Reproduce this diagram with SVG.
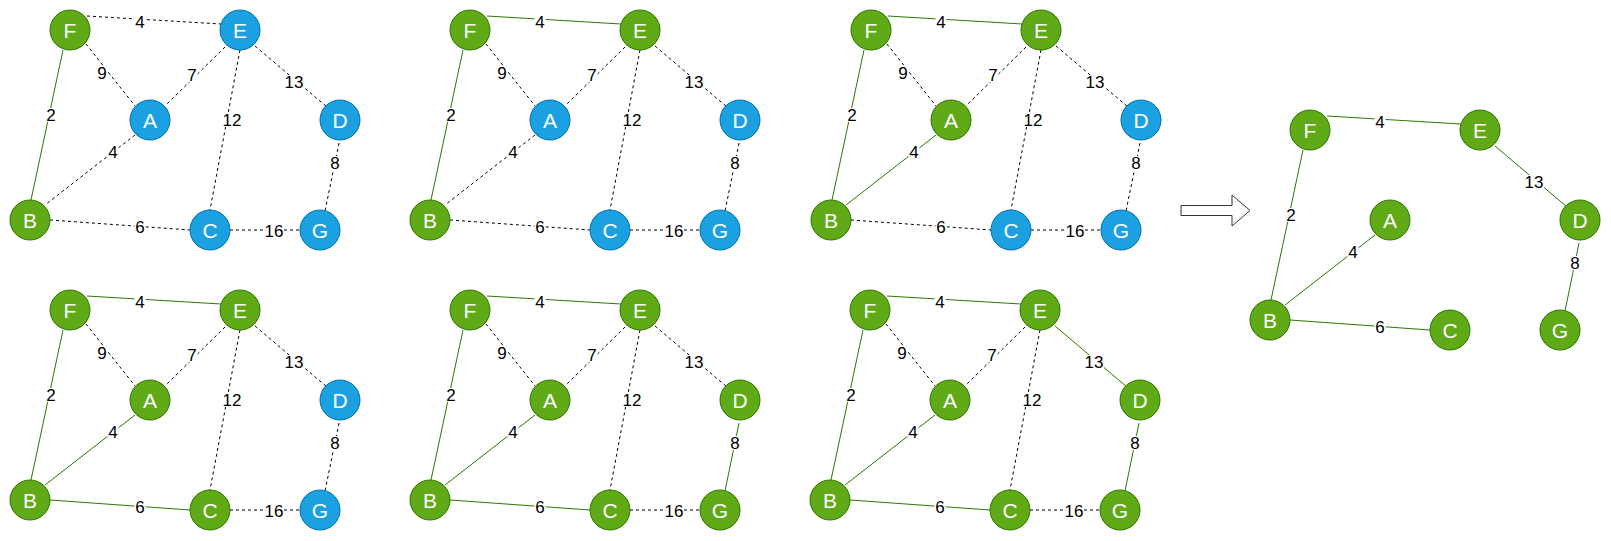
<svg xmlns="http://www.w3.org/2000/svg" width="1611" height="541" viewBox="0 0 1611 541">
<style>
.g{fill:#60A917;stroke:#2D7600;stroke-width:1}
.b{fill:#1BA1E2;stroke:#006EAF;stroke-width:1}
.nt{font-family:"Liberation Sans",Arial,sans-serif;font-size:21px;fill:#fff;text-anchor:middle;dominant-baseline:central}
.s{stroke:#2D7600;stroke-width:1;fill:none}
.d{stroke:#000;stroke-width:1;stroke-dasharray:3 3;fill:none}
.lb{fill:#fff}
.lt{font-family:"Liberation Sans",Arial,sans-serif;font-size:17px;fill:#000;text-anchor:middle;dominant-baseline:central}
</style>

<!-- Panel 1 -->
<g id="p1-connectors" transform="translate(0,0)">
<line class="d" x1="87" y1="16" x2="221" y2="24"/>
<line class="d" x1="86" y1="44" x2="135" y2="106"/>
<line class="d" x1="225" y1="47" x2="165" y2="106"/>
<line class="d" x1="255" y1="46" x2="327" y2="107"/>
<line class="d" x1="240" y1="50" x2="210" y2="210"/>
<line class="s" x1="63" y1="50" x2="31" y2="200"/>
<line class="d" x1="135" y1="135" x2="45" y2="205"/>
<line class="d" x1="339" y1="143" x2="325" y2="211"/>
<line class="d" x1="50" y1="220" x2="190" y2="230"/>
<line class="d" x1="230" y1="230" x2="300" y2="230"/>
<rect class="lb" x="134.5" y="15" width="11" height="14"/><text class="lt" x="140" y="22">4</text>
<rect class="lb" x="96.5" y="66" width="11" height="14"/><text class="lt" x="102" y="73">9</text>
<rect class="lb" x="186.5" y="68" width="11" height="14"/><text class="lt" x="192" y="75">7</text>
<rect class="lb" x="284" y="75" width="20" height="14"/><text class="lt" x="294" y="82">13</text>
<rect class="lb" x="222" y="113" width="20" height="14"/><text class="lt" x="232" y="120">12</text>
<rect class="lb" x="45.5" y="108" width="11" height="14"/><text class="lt" x="51" y="115">2</text>
<rect class="lb" x="107.5" y="145" width="11" height="14"/><text class="lt" x="113" y="152">4</text>
<rect class="lb" x="329.5" y="156" width="11" height="14"/><text class="lt" x="335" y="163">8</text>
<rect class="lb" x="134.5" y="220" width="11" height="14"/><text class="lt" x="140" y="227">6</text>
<rect class="lb" x="264" y="224" width="20" height="14"/><text class="lt" x="274" y="231">16</text>
</g>
<g id="p1-F"><circle class="g" cx="70" cy="30" r="20"/><text class="nt" x="70" y="30">F</text></g>
<g id="p1-E"><circle class="b" cx="240" cy="30" r="20"/><text class="nt" x="240" y="30">E</text></g>
<g id="p1-A"><circle class="b" cx="150" cy="120" r="20"/><text class="nt" x="150" y="120">A</text></g>
<g id="p1-D"><circle class="b" cx="340" cy="120" r="20"/><text class="nt" x="340" y="120">D</text></g>
<g id="p1-B"><circle class="g" cx="30" cy="220" r="20"/><text class="nt" x="30" y="220">B</text></g>
<g id="p1-C"><circle class="b" cx="210" cy="230" r="20"/><text class="nt" x="210" y="230">C</text></g>
<g id="p1-G"><circle class="b" cx="320" cy="230" r="20"/><text class="nt" x="320" y="230">G</text></g>

<!-- Panel 2 -->
<g id="p2-connectors" transform="translate(400,0)">
<line class="s" x1="87" y1="16" x2="221" y2="24"/>
<line class="d" x1="86" y1="44" x2="135" y2="106"/>
<line class="d" x1="225" y1="47" x2="165" y2="106"/>
<line class="d" x1="255" y1="46" x2="327" y2="107"/>
<line class="d" x1="240" y1="50" x2="210" y2="210"/>
<line class="s" x1="63" y1="50" x2="31" y2="200"/>
<line class="d" x1="135" y1="135" x2="45" y2="205"/>
<line class="d" x1="339" y1="143" x2="325" y2="211"/>
<line class="d" x1="50" y1="220" x2="190" y2="230"/>
<line class="d" x1="230" y1="230" x2="300" y2="230"/>
<rect class="lb" x="134.5" y="15" width="11" height="14"/><text class="lt" x="140" y="22">4</text>
<rect class="lb" x="96.5" y="66" width="11" height="14"/><text class="lt" x="102" y="73">9</text>
<rect class="lb" x="186.5" y="68" width="11" height="14"/><text class="lt" x="192" y="75">7</text>
<rect class="lb" x="284" y="75" width="20" height="14"/><text class="lt" x="294" y="82">13</text>
<rect class="lb" x="222" y="113" width="20" height="14"/><text class="lt" x="232" y="120">12</text>
<rect class="lb" x="45.5" y="108" width="11" height="14"/><text class="lt" x="51" y="115">2</text>
<rect class="lb" x="107.5" y="145" width="11" height="14"/><text class="lt" x="113" y="152">4</text>
<rect class="lb" x="329.5" y="156" width="11" height="14"/><text class="lt" x="335" y="163">8</text>
<rect class="lb" x="134.5" y="220" width="11" height="14"/><text class="lt" x="140" y="227">6</text>
<rect class="lb" x="264" y="224" width="20" height="14"/><text class="lt" x="274" y="231">16</text>
</g>
<g id="p2-F"><circle class="g" cx="470" cy="30" r="20"/><text class="nt" x="470" y="30">F</text></g>
<g id="p2-E"><circle class="g" cx="640" cy="30" r="20"/><text class="nt" x="640" y="30">E</text></g>
<g id="p2-A"><circle class="b" cx="550" cy="120" r="20"/><text class="nt" x="550" y="120">A</text></g>
<g id="p2-D"><circle class="b" cx="740" cy="120" r="20"/><text class="nt" x="740" y="120">D</text></g>
<g id="p2-B"><circle class="g" cx="430" cy="220" r="20"/><text class="nt" x="430" y="220">B</text></g>
<g id="p2-C"><circle class="b" cx="610" cy="230" r="20"/><text class="nt" x="610" y="230">C</text></g>
<g id="p2-G"><circle class="b" cx="720" cy="230" r="20"/><text class="nt" x="720" y="230">G</text></g>

<!-- Panel 3 -->
<g id="p3-connectors" transform="translate(801,0)">
<line class="s" x1="87" y1="16" x2="221" y2="24"/>
<line class="d" x1="86" y1="44" x2="135" y2="106"/>
<line class="d" x1="225" y1="47" x2="165" y2="106"/>
<line class="d" x1="255" y1="46" x2="327" y2="107"/>
<line class="d" x1="240" y1="50" x2="210" y2="210"/>
<line class="s" x1="63" y1="50" x2="31" y2="200"/>
<line class="s" x1="135" y1="135" x2="45" y2="205"/>
<line class="d" x1="339" y1="143" x2="325" y2="211"/>
<line class="d" x1="50" y1="220" x2="190" y2="230"/>
<line class="d" x1="230" y1="230" x2="300" y2="230"/>
<rect class="lb" x="134.5" y="15" width="11" height="14"/><text class="lt" x="140" y="22">4</text>
<rect class="lb" x="96.5" y="66" width="11" height="14"/><text class="lt" x="102" y="73">9</text>
<rect class="lb" x="186.5" y="68" width="11" height="14"/><text class="lt" x="192" y="75">7</text>
<rect class="lb" x="284" y="75" width="20" height="14"/><text class="lt" x="294" y="82">13</text>
<rect class="lb" x="222" y="113" width="20" height="14"/><text class="lt" x="232" y="120">12</text>
<rect class="lb" x="45.5" y="108" width="11" height="14"/><text class="lt" x="51" y="115">2</text>
<rect class="lb" x="107.5" y="145" width="11" height="14"/><text class="lt" x="113" y="152">4</text>
<rect class="lb" x="329.5" y="156" width="11" height="14"/><text class="lt" x="335" y="163">8</text>
<rect class="lb" x="134.5" y="220" width="11" height="14"/><text class="lt" x="140" y="227">6</text>
<rect class="lb" x="264" y="224" width="20" height="14"/><text class="lt" x="274" y="231">16</text>
</g>
<g id="p3-F"><circle class="g" cx="871" cy="30" r="20"/><text class="nt" x="871" y="30">F</text></g>
<g id="p3-E"><circle class="g" cx="1041" cy="30" r="20"/><text class="nt" x="1041" y="30">E</text></g>
<g id="p3-A"><circle class="g" cx="951" cy="120" r="20"/><text class="nt" x="951" y="120">A</text></g>
<g id="p3-D"><circle class="b" cx="1141" cy="120" r="20"/><text class="nt" x="1141" y="120">D</text></g>
<g id="p3-B"><circle class="g" cx="831" cy="220" r="20"/><text class="nt" x="831" y="220">B</text></g>
<g id="p3-C"><circle class="b" cx="1011" cy="230" r="20"/><text class="nt" x="1011" y="230">C</text></g>
<g id="p3-G"><circle class="b" cx="1121" cy="230" r="20"/><text class="nt" x="1121" y="230">G</text></g>

<!-- Panel 4 -->
<g id="p4-connectors" transform="translate(0,280)">
<line class="s" x1="87" y1="16" x2="221" y2="24"/>
<line class="d" x1="86" y1="44" x2="135" y2="106"/>
<line class="d" x1="225" y1="47" x2="165" y2="106"/>
<line class="d" x1="255" y1="46" x2="327" y2="107"/>
<line class="d" x1="240" y1="50" x2="210" y2="210"/>
<line class="s" x1="63" y1="50" x2="31" y2="200"/>
<line class="s" x1="135" y1="135" x2="45" y2="205"/>
<line class="d" x1="339" y1="143" x2="325" y2="211"/>
<line class="s" x1="50" y1="220" x2="190" y2="230"/>
<line class="d" x1="230" y1="230" x2="300" y2="230"/>
<rect class="lb" x="134.5" y="15" width="11" height="14"/><text class="lt" x="140" y="22">4</text>
<rect class="lb" x="96.5" y="66" width="11" height="14"/><text class="lt" x="102" y="73">9</text>
<rect class="lb" x="186.5" y="68" width="11" height="14"/><text class="lt" x="192" y="75">7</text>
<rect class="lb" x="284" y="75" width="20" height="14"/><text class="lt" x="294" y="82">13</text>
<rect class="lb" x="222" y="113" width="20" height="14"/><text class="lt" x="232" y="120">12</text>
<rect class="lb" x="45.5" y="108" width="11" height="14"/><text class="lt" x="51" y="115">2</text>
<rect class="lb" x="107.5" y="145" width="11" height="14"/><text class="lt" x="113" y="152">4</text>
<rect class="lb" x="329.5" y="156" width="11" height="14"/><text class="lt" x="335" y="163">8</text>
<rect class="lb" x="134.5" y="220" width="11" height="14"/><text class="lt" x="140" y="227">6</text>
<rect class="lb" x="264" y="224" width="20" height="14"/><text class="lt" x="274" y="231">16</text>
</g>
<g id="p4-F"><circle class="g" cx="70" cy="310" r="20"/><text class="nt" x="70" y="310">F</text></g>
<g id="p4-E"><circle class="g" cx="240" cy="310" r="20"/><text class="nt" x="240" y="310">E</text></g>
<g id="p4-A"><circle class="g" cx="150" cy="400" r="20"/><text class="nt" x="150" y="400">A</text></g>
<g id="p4-D"><circle class="b" cx="340" cy="400" r="20"/><text class="nt" x="340" y="400">D</text></g>
<g id="p4-B"><circle class="g" cx="30" cy="500" r="20"/><text class="nt" x="30" y="500">B</text></g>
<g id="p4-C"><circle class="g" cx="210" cy="510" r="20"/><text class="nt" x="210" y="510">C</text></g>
<g id="p4-G"><circle class="b" cx="320" cy="510" r="20"/><text class="nt" x="320" y="510">G</text></g>

<!-- Panel 5 -->
<g id="p5-connectors" transform="translate(400,280)">
<line class="s" x1="87" y1="16" x2="221" y2="24"/>
<line class="d" x1="86" y1="44" x2="135" y2="106"/>
<line class="d" x1="225" y1="47" x2="165" y2="106"/>
<line class="d" x1="255" y1="46" x2="327" y2="107"/>
<line class="d" x1="240" y1="50" x2="210" y2="210"/>
<line class="s" x1="63" y1="50" x2="31" y2="200"/>
<line class="s" x1="135" y1="135" x2="45" y2="205"/>
<line class="s" x1="339" y1="143" x2="325" y2="211"/>
<line class="s" x1="50" y1="220" x2="190" y2="230"/>
<line class="d" x1="230" y1="230" x2="300" y2="230"/>
<rect class="lb" x="134.5" y="15" width="11" height="14"/><text class="lt" x="140" y="22">4</text>
<rect class="lb" x="96.5" y="66" width="11" height="14"/><text class="lt" x="102" y="73">9</text>
<rect class="lb" x="186.5" y="68" width="11" height="14"/><text class="lt" x="192" y="75">7</text>
<rect class="lb" x="284" y="75" width="20" height="14"/><text class="lt" x="294" y="82">13</text>
<rect class="lb" x="222" y="113" width="20" height="14"/><text class="lt" x="232" y="120">12</text>
<rect class="lb" x="45.5" y="108" width="11" height="14"/><text class="lt" x="51" y="115">2</text>
<rect class="lb" x="107.5" y="145" width="11" height="14"/><text class="lt" x="113" y="152">4</text>
<rect class="lb" x="329.5" y="156" width="11" height="14"/><text class="lt" x="335" y="163">8</text>
<rect class="lb" x="134.5" y="220" width="11" height="14"/><text class="lt" x="140" y="227">6</text>
<rect class="lb" x="264" y="224" width="20" height="14"/><text class="lt" x="274" y="231">16</text>
</g>
<g id="p5-F"><circle class="g" cx="470" cy="310" r="20"/><text class="nt" x="470" y="310">F</text></g>
<g id="p5-E"><circle class="g" cx="640" cy="310" r="20"/><text class="nt" x="640" y="310">E</text></g>
<g id="p5-A"><circle class="g" cx="550" cy="400" r="20"/><text class="nt" x="550" y="400">A</text></g>
<g id="p5-D"><circle class="g" cx="740" cy="400" r="20"/><text class="nt" x="740" y="400">D</text></g>
<g id="p5-B"><circle class="g" cx="430" cy="500" r="20"/><text class="nt" x="430" y="500">B</text></g>
<g id="p5-C"><circle class="g" cx="610" cy="510" r="20"/><text class="nt" x="610" y="510">C</text></g>
<g id="p5-G"><circle class="g" cx="720" cy="510" r="20"/><text class="nt" x="720" y="510">G</text></g>

<!-- Panel 6 -->
<g id="p6-connectors" transform="translate(800,280)">
<line class="s" x1="87" y1="16" x2="221" y2="24"/>
<line class="d" x1="86" y1="44" x2="135" y2="106"/>
<line class="d" x1="225" y1="47" x2="165" y2="106"/>
<line class="s" x1="255" y1="46" x2="327" y2="107"/>
<line class="d" x1="240" y1="50" x2="210" y2="210"/>
<line class="s" x1="63" y1="50" x2="31" y2="200"/>
<line class="s" x1="135" y1="135" x2="45" y2="205"/>
<line class="s" x1="339" y1="143" x2="325" y2="211"/>
<line class="s" x1="50" y1="220" x2="190" y2="230"/>
<line class="d" x1="230" y1="230" x2="300" y2="230"/>
<rect class="lb" x="134.5" y="15" width="11" height="14"/><text class="lt" x="140" y="22">4</text>
<rect class="lb" x="96.5" y="66" width="11" height="14"/><text class="lt" x="102" y="73">9</text>
<rect class="lb" x="186.5" y="68" width="11" height="14"/><text class="lt" x="192" y="75">7</text>
<rect class="lb" x="284" y="75" width="20" height="14"/><text class="lt" x="294" y="82">13</text>
<rect class="lb" x="222" y="113" width="20" height="14"/><text class="lt" x="232" y="120">12</text>
<rect class="lb" x="45.5" y="108" width="11" height="14"/><text class="lt" x="51" y="115">2</text>
<rect class="lb" x="107.5" y="145" width="11" height="14"/><text class="lt" x="113" y="152">4</text>
<rect class="lb" x="329.5" y="156" width="11" height="14"/><text class="lt" x="335" y="163">8</text>
<rect class="lb" x="134.5" y="220" width="11" height="14"/><text class="lt" x="140" y="227">6</text>
<rect class="lb" x="264" y="224" width="20" height="14"/><text class="lt" x="274" y="231">16</text>
</g>
<g id="p6-F"><circle class="g" cx="870" cy="310" r="20"/><text class="nt" x="870" y="310">F</text></g>
<g id="p6-E"><circle class="g" cx="1040" cy="310" r="20"/><text class="nt" x="1040" y="310">E</text></g>
<g id="p6-A"><circle class="g" cx="950" cy="400" r="20"/><text class="nt" x="950" y="400">A</text></g>
<g id="p6-D"><circle class="g" cx="1140" cy="400" r="20"/><text class="nt" x="1140" y="400">D</text></g>
<g id="p6-B"><circle class="g" cx="830" cy="500" r="20"/><text class="nt" x="830" y="500">B</text></g>
<g id="p6-C"><circle class="g" cx="1010" cy="510" r="20"/><text class="nt" x="1010" y="510">C</text></g>
<g id="p6-G"><circle class="g" cx="1120" cy="510" r="20"/><text class="nt" x="1120" y="510">G</text></g>

<!-- Arrow -->
<g id="arrow">
<polygon points="1181,205.5 1232,205.5 1232,195 1250,210.5 1232,226 1232,215.5 1181,215.5" fill="#fff" stroke="#333" stroke-width="1"/>
</g>

<!-- Result tree -->
<g id="res-connectors" transform="translate(1240,100)">
<line class="s" x1="87" y1="16" x2="221" y2="24"/>
<line class="s" x1="255" y1="46" x2="327" y2="107"/>
<line class="s" x1="63" y1="50" x2="31" y2="200"/>
<line class="s" x1="135" y1="135" x2="45" y2="205"/>
<line class="s" x1="339" y1="143" x2="325" y2="211"/>
<line class="s" x1="50" y1="220" x2="190" y2="230"/>
<rect class="lb" x="134.5" y="15" width="11" height="14"/><text class="lt" x="140" y="22">4</text>
<rect class="lb" x="284" y="75" width="20" height="14"/><text class="lt" x="294" y="82">13</text>
<rect class="lb" x="45.5" y="108" width="11" height="14"/><text class="lt" x="51" y="115">2</text>
<rect class="lb" x="107.5" y="145" width="11" height="14"/><text class="lt" x="113" y="152">4</text>
<rect class="lb" x="329.5" y="156" width="11" height="14"/><text class="lt" x="335" y="163">8</text>
<rect class="lb" x="134.5" y="220" width="11" height="14"/><text class="lt" x="140" y="227">6</text>
</g>
<g id="res-F"><circle class="g" cx="1310" cy="130" r="20"/><text class="nt" x="1310" y="130">F</text></g>
<g id="res-E"><circle class="g" cx="1480" cy="130" r="20"/><text class="nt" x="1480" y="130">E</text></g>
<g id="res-A"><circle class="g" cx="1390" cy="220" r="20"/><text class="nt" x="1390" y="220">A</text></g>
<g id="res-D"><circle class="g" cx="1580" cy="220" r="20"/><text class="nt" x="1580" y="220">D</text></g>
<g id="res-B"><circle class="g" cx="1270" cy="320" r="20"/><text class="nt" x="1270" y="320">B</text></g>
<g id="res-C"><circle class="g" cx="1450" cy="330" r="20"/><text class="nt" x="1450" y="330">C</text></g>
<g id="res-G"><circle class="g" cx="1560" cy="330" r="20"/><text class="nt" x="1560" y="330">G</text></g>
</svg>
